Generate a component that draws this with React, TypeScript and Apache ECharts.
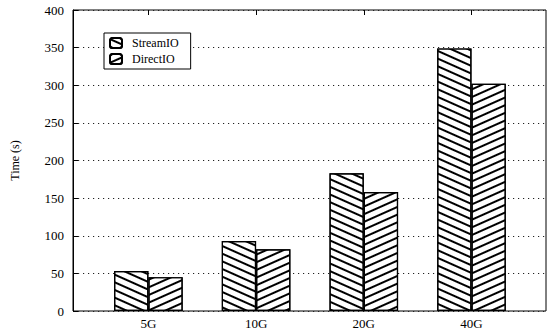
import React, { useEffect, useRef } from "react";
import * as echarts from "echarts";

const categories = ["5G", "10G", "20G", "40G"];
const streamIO = [53, 93, 183, 349];
const directIO = [45, 82, 158, 302];
const yTicks = { min: 0, max: 400, interval: 50 };

const FONT = "'Liberation Serif', 'Times New Roman', serif";

export default function App() {
  const ref = useRef<HTMLDivElement>(null);
  useEffect(() => {
    const chart = echarts.init(ref.current!, null, { renderer: "svg" });
    const band = 107.7;
    const frameLeft = 73;
    const frameRight = 546;
    const barLeft = frameLeft + 0.2 * band;
    const barWidthTotal = band * 4;
    const barRight = 548 - (barLeft + barWidthTotal);
    chart.setOption({
      animation: false,
      aria: { enabled: true, decal: { show: true } },
      grid: [
        { left: frameLeft, right: 548 - frameRight, top: 10, bottom: 22, show: true, borderColor: "#000", borderWidth: 1, backgroundColor: "transparent" },
        { left: barLeft, right: barRight, top: 10, bottom: 22 },
      ],
      legend: {
        orient: "vertical",
        left: 104,
        top: 33,
        data: ["StreamIO", "DirectIO"],
        backgroundColor: "#fff",
        borderColor: "#000",
        borderWidth: 1,
        padding: [4, 12, 4, 5],
        itemWidth: 12,
        itemHeight: 10,
        itemGap: 4,
        textStyle: { fontFamily: FONT, fontSize: 12, color: "#000", padding: [0, 0, 0, 5] },
        z: 10,
      },
      xAxis: [
        { type: "value", gridIndex: 0, min: 0, max: 1, show: false },
        {
          type: "category",
          gridIndex: 1,
          data: categories,
          axisLine: { show: false },
          axisTick: { show: true, inside: true, alignWithLabel: true, length: 5, lineStyle: { color: "#000" } },
          axisLabel: { fontFamily: FONT, fontSize: 13, color: "#000", margin: 6 },
        },
        {
          type: "category",
          gridIndex: 1,
          position: "top",
          data: categories,
          axisLine: { show: false },
          axisTick: { show: true, inside: true, alignWithLabel: true, length: 5, lineStyle: { color: "#000" } },
          axisLabel: { show: false },
        },
      ],
      yAxis: [
        {
          type: "value",
          gridIndex: 0,
          min: yTicks.min,
          max: yTicks.max,
          interval: yTicks.interval,
          name: "Time (s)",
          nameLocation: "middle",
          nameGap: 52,
          nameTextStyle: { fontFamily: FONT, fontSize: 12, color: "#000" },
          axisLine: { show: true, lineStyle: { color: "#000", width: 1 } },
          axisTick: { show: true, inside: true, length: 5, lineStyle: { color: "#000" } },
          axisLabel: { fontFamily: FONT, fontSize: 13, color: "#000", margin: 9 },
          splitLine: { show: true, lineStyle: { color: "#222", type: [1.2, 3.8], width: 1 } },
        },
        { type: "value", gridIndex: 1, min: yTicks.min, max: yTicks.max, interval: yTicks.interval, show: false },
      ],
      series: [
        {
          name: "StreamIO",
          type: "bar",
          xAxisIndex: 1,
          yAxisIndex: 1,
          data: streamIO,
          barWidth: 34.3,
          barGap: "0%",
          itemStyle: {
            color: "#fff",
            borderColor: "#000",
            borderWidth: 1.2,
            decal: { symbol: "rect", symbolSize: 1, dashArrayX: [1, 0], dashArrayY: [1.4, 4.4], rotation: 0.42, color: "#000" },
          },
        },
        {
          name: "DirectIO",
          type: "bar",
          xAxisIndex: 1,
          yAxisIndex: 1,
          data: directIO,
          barWidth: 34.3,
          barGap: "0%",
          itemStyle: {
            color: "#fff",
            borderColor: "#000",
            borderWidth: 1.2,
            decal: { symbol: "rect", symbolSize: 1, dashArrayX: [1, 0], dashArrayY: [1.4, 4.4], rotation: -0.42, color: "#000" },
          },
        },
      ],
    });
    return () => chart.dispose();
  }, []);
  return <div ref={ref} style={{ position: "fixed", left: 0, top: 0, width: 548, height: 333, background: "#fff" }} />;
}
